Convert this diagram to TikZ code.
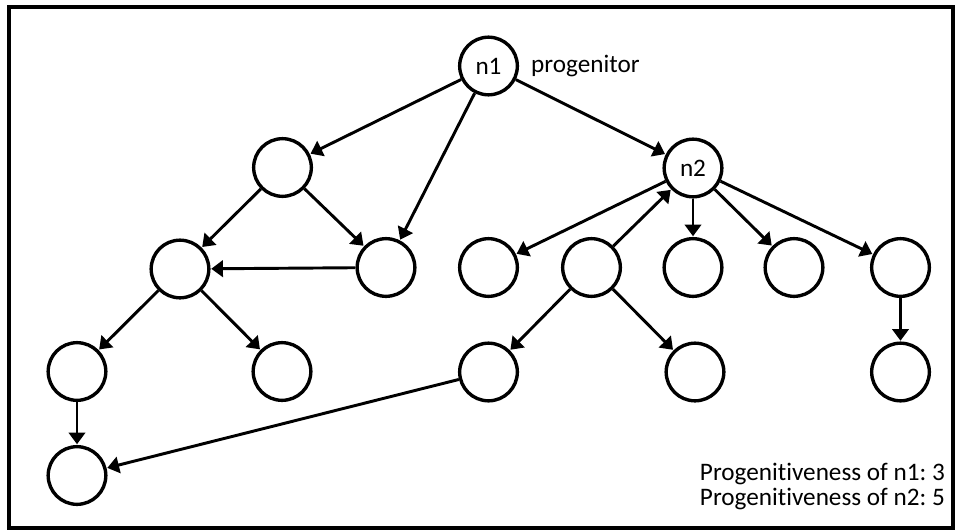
\documentclass[tikz,border=0pt]{standalone}
\usepackage{fontspec}
\setmainfont{Carlito}[Ligatures=NoCommon]
\frenchspacing
\usetikzlibrary{arrows.meta}
\begin{document}
\begin{tikzpicture}[x=0.03cm, y=-0.03cm,
  every node/.style={font=\fontsize{21.5}{23}\selectfont},
  vertex/.style={circle, draw, line width=2.9pt, minimum size=1.73cm, inner sep=0pt},
  edge/.style={line width=2.5pt, -{Triangle[length=10pt,width=14pt]}, shorten >=0.6pt},
  note/.style={inner sep=0pt}]
\useasboundingbox (0,0) rectangle (956,531);
\draw[line width=3.4pt] (9,7) rectangle (953,528);

\foreach \v/\x/\y/\t in {
n1/488.5/66/n1, n2/693/168/n2,
a/282.5/167.5/{},
b/180/269/{}, c/386/267.5/{}, d/488.5/267.5/{}, e/591.5/267.5/{},
f/693/267.5/{}, g/794/267.5/{}, h/900.5/267.5/{},
i/77/371.5/{}, j/282/371.5/{}, k/488.5/372/{}, l/695/372/{}, m/900.5/372/{},
o/77/475.5/{}}
\node[vertex] (\v) at (\x,\y) {\t};

\foreach \s/\e in {n1/a, n1/c, n1/n2, a/b, a/c, c/b, n2/d, e/n2, n2/f, n2/g,
  n2/h, b/i, b/j, e/k, e/l, h/m, i/o, k/o}
\draw[edge] (\s) -- (\e);

\node[note, anchor=base west] (prog) at (531,72) {progenitor};
\node[note, anchor=base east] (info1) at (945,480) {Progenitiveness of n1: 3};
\node[note, anchor=base east] (info2) at (945,505) {Progenitiveness of n2: 5};

\end{tikzpicture}
\end{document}
